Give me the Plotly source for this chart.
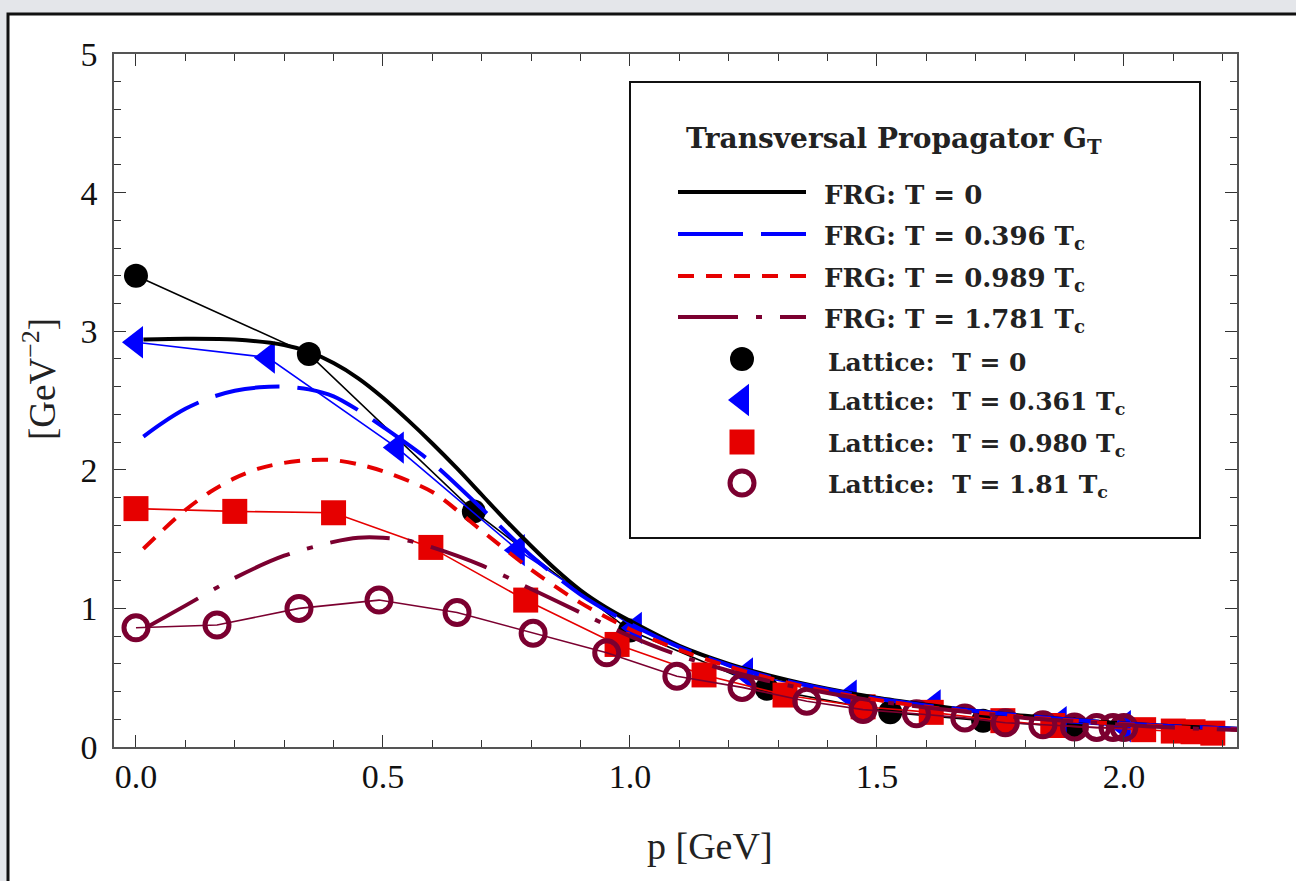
import plotly.graph_objects as go

# ---------------- data ----------------
# Lattice results (p in GeV, G_T in GeV^-2)
lat_t0_p = [0.0, 0.350, 0.684, 1.0, 1.277, 1.527, 1.715, 1.895]
lat_t0_g = [3.40, 2.835, 1.70, 0.84, 0.42, 0.25, 0.19, 0.145]

lat_t361_p = [0.0, 0.267, 0.528, 0.773, 1.01, 1.235, 1.445, 1.615, 1.87, 2.0]
lat_t361_g = [2.92, 2.81, 2.16, 1.42, 0.86, 0.53, 0.37, 0.30, 0.18, 0.15]

lat_t980_p = [0.0, 0.2, 0.4, 0.597, 0.789, 0.974, 1.15, 1.314, 1.472, 1.61,
              1.755, 1.856, 2.04, 2.10, 2.14, 2.18]
lat_t980_g = [1.72, 1.70, 1.69, 1.44, 1.06, 0.74, 0.52, 0.375, 0.29, 0.25,
              0.19, 0.155, 0.125, 0.115, 0.11, 0.10]

lat_t181_p = [0.0, 0.164, 0.330, 0.492, 0.650, 0.804, 0.953, 1.095, 1.227, 1.358,
              1.472, 1.58, 1.678, 1.76, 1.836, 1.90, 1.945, 1.978, 2.0]
lat_t181_g = [0.86, 0.88, 1.00, 1.06, 0.97, 0.82, 0.68, 0.51, 0.43, 0.33,
              0.27, 0.24, 0.21, 0.175, 0.16, 0.145, 0.14, 0.14, 0.14]

# FRG results
frg_t0_p = [0.015, 0.1, 0.2, 0.3, 0.35, 0.4, 0.45, 0.5, 0.55, 0.6, 0.65, 0.7, 0.75,
            0.8, 0.85, 0.9, 0.95, 1.0, 1.1, 1.2, 1.3, 1.4, 1.5, 1.6, 1.7, 1.8, 1.9,
            2.0, 2.1, 2.25]
frg_t0_g = [2.94, 2.945, 2.94, 2.90, 2.85, 2.77, 2.66, 2.52, 2.36, 2.19, 2.01, 1.82,
            1.63, 1.45, 1.28, 1.13, 1.01, 0.91, 0.73, 0.60, 0.50, 0.42, 0.355, 0.305,
            0.26, 0.225, 0.195, 0.17, 0.15, 0.128]

frg_t396_p = [0.015, 0.05, 0.1, 0.15, 0.2, 0.25, 0.3, 0.35, 0.4, 0.45, 0.5, 0.6, 0.7,
              0.8, 0.9, 1.0, 1.1, 1.2, 1.3, 1.4, 1.5, 1.6, 1.7, 1.8, 1.9, 2.0, 2.1, 2.25]
frg_t396_g = [2.24, 2.33, 2.44, 2.52, 2.57, 2.595, 2.60, 2.58, 2.53, 2.43, 2.31, 2.05,
              1.72, 1.38, 1.10, 0.89, 0.72, 0.59, 0.49, 0.415, 0.35, 0.30, 0.26, 0.225,
              0.195, 0.17, 0.15, 0.128]

frg_t989_p = [0.015, 0.05, 0.1, 0.15, 0.2, 0.25, 0.3, 0.35, 0.4, 0.45, 0.5, 0.6, 0.7,
              0.8, 0.9, 1.0, 1.1, 1.2, 1.3, 1.4, 1.5, 1.6, 1.7, 1.8, 1.9, 2.0, 2.1, 2.25]
frg_t989_g = [1.43, 1.55, 1.71, 1.84, 1.94, 2.01, 2.05, 2.07, 2.07, 2.04, 1.99, 1.84,
              1.56, 1.28, 1.04, 0.85, 0.70, 0.58, 0.48, 0.40, 0.34, 0.29, 0.25, 0.215,
              0.19, 0.165, 0.145, 0.124]

frg_t1781_p = [0.02, 0.1, 0.2, 0.3, 0.4, 0.45, 0.5, 0.55, 0.6, 0.7, 0.8, 0.9, 1.0, 1.1,
               1.2, 1.3, 1.4, 1.5, 1.6, 1.7, 1.8, 1.9, 2.0, 2.1, 2.25]
frg_t1781_g = [0.86, 1.02, 1.22, 1.38, 1.48, 1.51, 1.51, 1.49, 1.44, 1.31, 1.14, 0.97,
               0.80, 0.66, 0.55, 0.46, 0.39, 0.33, 0.285, 0.245, 0.21, 0.185, 0.16,
               0.14, 0.12]

# Legend entries
frg_labels = ["FRG: T = 0", "FRG: T = 0.396 T<sub>c</sub>",
              "FRG: T = 0.989 T<sub>c</sub>", "FRG: T = 1.781 T<sub>c</sub>"]
lat_labels = ["Lattice:  T = 0", "Lattice:  T = 0.361 T<sub>c</sub>",
              "Lattice:  T = 0.980 T<sub>c</sub>", "Lattice:  T = 1.81 T<sub>c</sub>"]
legend_title = "Transversal Propagator G<sub>T</sub>"

# ---------------- styles ----------------
BLACK = "#000000"
BLUE = "#0000FF"
RED = "#E60000"
MAROON = "#7B0030"

SERIF = "Liberation Serif"
LEG_FONT = "DejaVu Serif"

frg_styles = [
    (BLACK, "solid"),
    (BLUE, "65px,18px"),
    (RED, "16px,12px"),
    (MAROON, "60px,18px,6px,18px"),
]
lat_styles = [
    dict(symbol="circle", size=24, color=BLACK, line=dict(width=0)),
    dict(symbol="triangle-left", size=28, color=BLUE, line=dict(width=0)),
    dict(symbol="square", size=25, color=RED, line=dict(width=0)),
    dict(symbol="circle-open", size=24, color=MAROON, line=dict(width=5, color=MAROON)),
]

fig = go.Figure()

# lattice data: markers joined by thin lines
lat_sets = [(lat_t0_p, lat_t0_g), (lat_t361_p, lat_t361_g),
            (lat_t980_p, lat_t980_g), (lat_t181_p, lat_t181_g)]
for (px, gy), mk in zip(lat_sets, lat_styles):
    fig.add_trace(go.Scatter(
        x=px, y=gy, mode="lines+markers",
        line=dict(color=mk["color"], width=1.6),
        marker=mk, showlegend=False, hoverinfo="skip"))

# FRG curves on top
frg_sets = [(frg_t0_p, frg_t0_g), (frg_t396_p, frg_t396_g),
            (frg_t989_p, frg_t989_g), (frg_t1781_p, frg_t1781_g)]
for (px, gy), (col, dash) in zip(frg_sets, frg_styles):
    fig.add_trace(go.Scatter(
        x=px, y=gy, mode="lines",
        line=dict(color=col, width=4, dash=dash, shape="spline", smoothing=0.8),
        showlegend=False, hoverinfo="skip"))

# ---------------- hand-drawn legend (pixel frame on x2/y2) ----------------
L, R, T, B = 114, 1237, 54, 747
key_x0, key_x1, key_xm = 678, 806, 742
frg_rows = [192, 234, 276, 317]
lat_rows = [359, 400, 442, 483]

for yrow, (col, dash) in zip(frg_rows, frg_styles):
    fig.add_trace(go.Scatter(
        x=[key_x0, key_x1], y=[yrow, yrow], mode="lines",
        line=dict(color=col, width=4, dash=dash),
        xaxis="x2", yaxis="y2", showlegend=False, hoverinfo="skip"))
for yrow, mk in zip(lat_rows, lat_styles):
    fig.add_trace(go.Scatter(
        x=[key_xm], y=[yrow], mode="markers", marker=mk,
        xaxis="x2", yaxis="y2", showlegend=False, hoverinfo="skip"))


def paper_x(px):
    return (px - L) / (R - L)


def paper_y(py):
    return (B - py) / (B - T)


annotations = [dict(
    x=684, y=140, xref="x2", yref="y2", xanchor="left", yanchor="middle",
    text="<b>" + legend_title + "</b>", showarrow=False,
    font=dict(family=LEG_FONT, size=28, color="#222"))]
for yrow, txt in zip(frg_rows, frg_labels):
    annotations.append(dict(
        x=822, y=yrow + 3, xref="x2", yref="y2", xanchor="left", yanchor="middle",
        text="<b>" + txt + "</b>", showarrow=False,
        font=dict(family=LEG_FONT, size=26, color="#222")))
for yrow, txt in zip(lat_rows, lat_labels):
    annotations.append(dict(
        x=826, y=yrow + 3, xref="x2", yref="y2", xanchor="left", yanchor="middle",
        text="<b>" + txt + "</b>", showarrow=False,
        font=dict(family=LEG_FONT, size=25, color="#222")))

# axis titles
annotations.append(dict(
    x=paper_x(710), y=paper_y(846), xref="paper", yref="paper",
    xanchor="center", yanchor="middle",
    text="p [GeV]", showarrow=False,
    font=dict(family=SERIF, size=38, color="#222")))
annotations.append(dict(
    x=paper_x(40), y=paper_y(379), xref="paper", yref="paper",
    xanchor="center", yanchor="middle",
    text="[GeV<sup>\u22122</sup>]", textangle=-90, showarrow=False,
    font=dict(family=SERIF, size=37, color="#222")))

shapes = [
    # white panel with black frame
    dict(type="rect", xref="paper", yref="paper", layer="below",
         x0=paper_x(8), x1=paper_x(1310), y0=paper_y(895), y1=paper_y(14),
         fillcolor="white", line=dict(color="#111", width=3)),
    # legend box
    dict(type="rect", xref="paper", yref="paper", layer="below",
         x0=paper_x(630), x1=paper_x(1200), y0=paper_y(538), y1=paper_y(82),
         fillcolor="white", line=dict(color="#111", width=2)),
]

axis_common = dict(
    showline=True, linecolor="#555", linewidth=1.5, mirror="allticks",
    ticks="inside", ticklen=12, tickwidth=1.3, tickcolor="#333",
    showgrid=False, zeroline=False,
    tickfont=dict(family=SERIF, size=34, color="#111"),
)

fig.update_layout(
    width=1296, height=881, autosize=False,
    margin=dict(l=L, r=1296 - R, t=T, b=881 - B),
    paper_bgcolor="#e4e6ea", plot_bgcolor="rgba(0,0,0,0)",
    showlegend=False,
    xaxis=dict(range=[-0.0445, 2.229], tick0=0, dtick=0.5, tickformat=".1f",
               minor=dict(ticks="inside", ticklen=7, dtick=0.1, tickcolor="#333",
                          tickwidth=1),
               ticklabelstandoff=-2, **axis_common),
    yaxis=dict(range=[0, 5], tick0=0, dtick=1,
               minor=dict(ticks="inside", ticklen=7, dtick=0.2, tickcolor="#333",
                          tickwidth=1),
               ticklabelstandoff=8, **axis_common),
    xaxis2=dict(domain=[0, 1], range=[L, R], anchor="y2", visible=False),
    yaxis2=dict(domain=[0, 1], range=[B, T], anchor="x2", visible=False),
    shapes=shapes,
    annotations=annotations,
)

fig.write_html("out.html")
